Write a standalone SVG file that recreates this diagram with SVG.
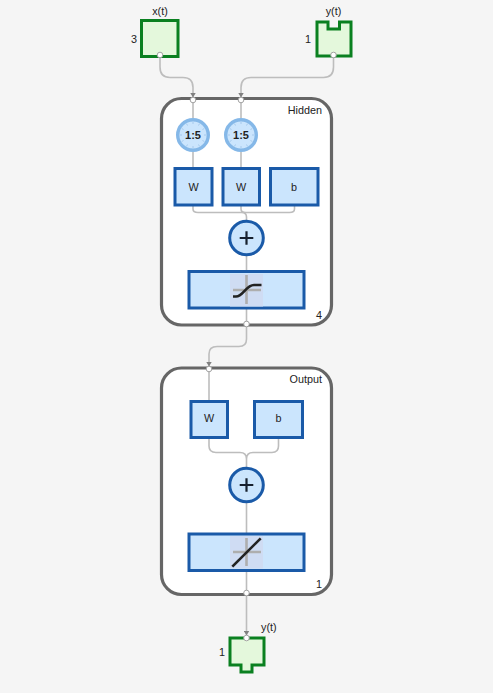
<svg xmlns="http://www.w3.org/2000/svg" width="493" height="693" viewBox="0 0 493 693">
<style>
text{font-family:"Liberation Sans",Arial,sans-serif;font-size:10.8px;fill:#222}
.c{text-anchor:middle}
.e{text-anchor:end}
.wire{fill:none;stroke:#bdbdbd;stroke-width:1.6}
.layer{fill:#fff;stroke:#666;stroke-width:3.2}
.blk{fill:#cbe5fd;stroke:#1a5aa8;stroke-width:3}
.io{fill:#e4f8dc;stroke:#0a8020;stroke-width:3}
.port{fill:#fff;stroke:#999;stroke-width:.9}
.tick{stroke:#a6c9ec;stroke-width:1}
.axis{stroke:#aeaeae;stroke-width:2.6;fill:none}
.curve{stroke:#222;stroke-width:2.6;fill:none}
.pad{fill:#cfdcf3}
</style>
<defs>
<marker id="arr" markerWidth="6" markerHeight="6" refX="3" refY="5" orient="0" markerUnits="userSpaceOnUse"><path d="M0.300 0.500H5.700L3 5Z" fill="#808080"/></marker>
<g id="clock">
<circle r="15.300" fill="#cbe5fd" stroke="#85b8e8" stroke-width="3.400"/>
<path class="tick" d="M0-13V-11M0 13V11M-13 0H-11M13 0H11M6.500-11.300L5.500-9.500M-6.500-11.300L-5.500-9.500M6.500 11.300L5.500 9.500M-6.500 11.300L-5.500 9.500M11.300-6.500L9.500-5.500M-11.300-6.500L-9.500-5.500M11.300 6.500L9.500 5.500M-11.300 6.500L-9.500 5.500"/>
<text class="c" y="4" style="font-size:11px;font-weight:bold">1:5</text>
</g>
<g id="sum">
<circle r="16.800" class="blk"/>
<path d="M0-6.800V6.800M-6.800 0H6.800" stroke="#17202e" stroke-width="2.200" fill="none"/>
</g>
</defs>
<rect width="493" height="693" fill="#f5f5f5"/>
<g id="layers">
<rect id="hidden-box" class="layer" x="161.500" y="98.500" width="170" height="226.500" rx="20"/>
<rect id="output-box" class="layer" x="161.500" y="368" width="170" height="226.500" rx="20"/>
</g>
<g id="connectors">
<path class="wire" marker-end="url(#arr)" d="M160 55V67Q160 77.500 170 77.500H183Q193 77.500 193 87.500V97.500"/>
<path class="wire" marker-end="url(#arr)" d="M333.500 55V67Q333.500 77.500 323.500 77.500H251Q241 77.500 241 87.500V97.500"/>
<path class="wire" d="M193 100V118M241 100V118M193 152V168M241 152V168"/>
<path class="wire" d="M193 206V209Q193 212.500 198 212.500H241.500Q246.500 212.500 246.500 217V221M241 206V209Q241 212.500 246 212.500H289.500Q294.500 212.500 294.500 209V206M246.500 255V271M246.500 308V324"/>
<path class="wire" marker-end="url(#arr)" d="M246.500 325V339Q246.500 346.500 239 346.500H217Q209 346.500 209 354V366.500"/>
<path class="wire" d="M209 370V401M209 438V446Q209 452.500 216 452.500H240Q246.500 452.500 246.500 459V468M278.500 438V446Q278.500 452.500 272 452.500H253Q246.500 452.500 246.500 459M246.500 502V534M246.500 571V593"/>
<path class="wire" marker-end="url(#arr)" d="M246.500 594V635.500"/>
</g>
<g id="node-x">
<rect class="io" x="141.500" y="20.500" width="36.500" height="36"/>
<text class="c" x="160" y="15">x(t)</text>
<text class="e" x="137" y="43">3</text>
<circle class="port" cx="160" cy="55" r="2.800"/>
</g>
<g id="node-y-in">
<path class="io" d="M317 22H328V29H339.500V22H351V56H317Z"/>
<text class="c" x="333.500" y="15">y(t)</text>
<text class="e" x="311" y="43">1</text>
<circle class="port" cx="333.500" cy="55" r="2.800"/>
</g>
<g id="node-hidden">
<text class="e" x="322" y="114">Hidden</text>
<text class="e" x="322" y="319">4</text>
<circle class="port" cx="193" cy="100" r="2.800"/>
<circle class="port" cx="241" cy="100" r="2.800"/>
<circle class="port" cx="246.500" cy="324" r="2.800"/>
</g>
<g id="delay-1"><use href="#clock" x="193" y="135"/></g>
<g id="delay-2"><use href="#clock" x="241" y="135"/></g>
<g id="w-1"><rect class="blk" x="175" y="168.500" width="37" height="36.500"/><text class="c" x="193.500" y="191">W</text></g>
<g id="w-2"><rect class="blk" x="223" y="168.500" width="36.500" height="36.500"/><text class="c" x="241" y="191">W</text></g>
<g id="b-1"><rect class="blk" x="270.500" y="168.500" width="47.500" height="36.500"/><text class="c" x="294" y="191">b</text></g>
<g id="sum-1"><use href="#sum" x="246.500" y="238"/></g>
<g id="tf-1">
<rect class="blk" x="189" y="271.500" width="115" height="36.500"/>
<rect class="pad" x="230" y="274" width="33" height="32.500"/>
<path class="axis" d="M246.500 275V304M233 290H261"/>
<path class="curve" d="M233 296.500H236C243 296.500 246 285 254 285H261.500"/>
</g>
<g id="node-output">
<text class="e" x="322" y="383">Output</text>
<text class="e" x="322" y="588">1</text>
<circle class="port" cx="209" cy="369" r="2.800"/>
<circle class="port" cx="246.500" cy="593" r="2.800"/>
</g>
<g id="w-3"><rect class="blk" x="191" y="401.500" width="36.500" height="36"/><text class="c" x="209" y="422">W</text></g>
<g id="b-2"><rect class="blk" x="254.500" y="401.500" width="48" height="36"/><text class="c" x="278.500" y="422">b</text></g>
<g id="sum-2"><use href="#sum" x="246.500" y="485"/></g>
<g id="tf-2">
<rect class="blk" x="189" y="534" width="115" height="36.500"/>
<rect class="pad" x="230" y="536" width="33" height="32.500"/>
<path class="axis" d="M246.500 538V566M233 552H261"/>
<path class="curve" d="M232.300 566.700L260.700 538.300"/>
</g>
<g id="node-y-out">
<path class="io" d="M230 638H264V665H252V672H241V665H230Z"/>
<text x="261" y="631">y(t)</text>
<text class="e" x="225" y="656">1</text>
<circle class="port" cx="246.500" cy="638" r="2.800"/>
</g>
</svg>
